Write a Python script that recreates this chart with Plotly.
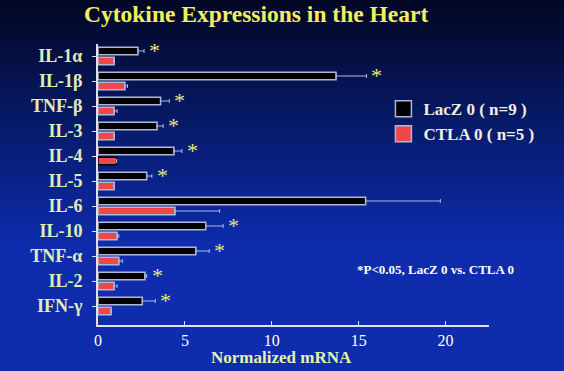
import plotly.graph_objects as go

categories = ["IL-1α", "IL-1β", "TNF-β", "IL-3", "IL-4", "IL-5", "IL-6", "IL-10", "TNF-α", "IL-2", "IFN-γ"]
lacz_values = [2.3, 13.7, 3.6, 3.4, 4.37, 2.8, 15.4, 6.2, 5.63, 2.7, 2.55]
lacz_errors = [0.35, 1.75, 0.5, 0.35, 0.46, 0.3, 4.3, 1.0, 0.77, 0.1, 0.75]
ctla_values = [0.93, 1.55, 0.93, 0.93, 1.07, 0.93, 4.43, 1.1, 1.2, 0.93, 0.75]
ctla_errors = [0.0, 0.15, 0.17, 0.0, 0.0, 0.0, 2.57, 0.1, 0.2, 0.17, 0.0]
significant = [True, True, True, True, True, True, False, True, True, True, True]
x_ticks = [0, 5, 10, 15, 20]

FONT = "Liberation Serif"
ypos = list(range(len(categories)))

fig = go.Figure()

# gradient background strips
n = 60
top = (2, 6, 30)
bot = (14, 44, 172)
for i in range(n):
    t = i / (n - 1)
    t2 = min(1.0, t * 1.7)
    c = tuple(int(top[k] + (bot[k] - top[k]) * t2) for k in range(3))
    fig.add_shape(type="rect", xref="paper", yref="paper", layer="below",
                  x0=-0.3, x1=1.3, y0=1.2 - (i + 1) * 1.55 / n, y1=1.2 - i * 1.55 / n + 0.005,
                  fillcolor="rgb(%d,%d,%d)" % c, line_width=0)

red_lines = ["#b0b8d8"] * len(categories)
red_lines[4] = "#000000"

fig.add_trace(go.Bar(
    y=ypos, x=lacz_values, orientation="h", name="LacZ 0 ( n=9 )",
    marker=dict(color="#000000", line=dict(color="#b0b8d8", width=1.5)),
    error_x=dict(type="data", array=lacz_errors, arrayminus=[0] * len(categories),
                 symmetric=False, color="#a8b8e8", thickness=1, width=2),
    showlegend=False,
))
fig.add_trace(go.Bar(
    y=ypos, x=ctla_values, orientation="h", name="CTLA 0 ( n=5 )",
    marker=dict(color="#f04848", line=dict(color=red_lines, width=1.5)),
    error_x=dict(type="data", array=ctla_errors, arrayminus=[0] * len(categories),
                 symmetric=False, color="#a8b8e8", thickness=1, width=2),
    showlegend=False,
))

# legend dummies
fig.add_trace(go.Scatter(x=[None], y=[None], mode="markers", name="<b>LacZ 0 ( n=9 )</b>",
                         marker=dict(symbol="square", size=16, color="#000000",
                                     line=dict(color="#b0b8d8", width=1.5))))
fig.add_trace(go.Scatter(x=[None], y=[None], mode="markers", name="<b>CTLA 0 ( n=5 )</b>",
                         marker=dict(symbol="square", size=16, color="#f04848",
                                     line=dict(color="#b0b8d8", width=1.5))))

# significance stars
for i, sig in enumerate(significant):
    if sig:
        fig.add_annotation(x=lacz_values[i] + lacz_errors[i], y=ypos[i], xref="x", yref="y",
                           text="*", showarrow=False, xanchor="left", yanchor="middle",
                           xshift=3, yshift=6,
                           font=dict(family=FONT, size=22, color="#e8e878"))

fig.add_annotation(x=0.405, y=1.107, xref="paper", yref="paper", yanchor="middle", xanchor="center",
                   text="<b>Cytokine Expressions in the Heart</b>", showarrow=False,
                   font=dict(family=FONT, size=23.5, color="#f0f060"))

fig.add_annotation(x=0.658, y=0.196, xref="paper", yref="paper", xanchor="left", yanchor="middle",
                   text="<b>*P<0.05, LacZ 0 vs. CTLA 0</b>", showarrow=False,
                   font=dict(family=FONT, size=13, color="#ffffff"))

fig.add_annotation(x=0.47, y=-0.114, xref="paper", yref="paper", xanchor="center", yanchor="middle",
                   text="<b>Normalized mRNA</b>", showarrow=False,
                   font=dict(family=FONT, size=17, color="#e8f0b0"))

fig.update_layout(
    width=564, height=371,
    margin=dict(l=98, r=75, t=44, b=46),
    paper_bgcolor="#061050", plot_bgcolor="rgba(0,0,0,0)",
    barmode="group", bargap=0.2, bargroupgap=0.25,
    legend=dict(x=0.73, y=0.832, xanchor="left", yanchor="top",
                bgcolor="rgba(0,0,0,0)", font=dict(family=FONT, size=17, color="#f0f0e0"),
                itemsizing="trace"),
    xaxis=dict(range=[0, 22.5], tickvals=x_ticks, showgrid=False, zeroline=False,
               showline=True, linecolor="#e0e0f0", linewidth=2,
               ticks="inside", ticklen=4, tickcolor="#e0e0f0",
               tickfont=dict(family=FONT, size=16, color="#ffffff")),
    yaxis=dict(range=[10.76, -0.48], tickvals=ypos, ticktext=["<b>%s</b>" % c for c in categories],
               showgrid=False, zeroline=False, showline=True, linecolor="#e0e0f0", linewidth=2,
               ticks="outside", ticklen=4, tickcolor="#e0e0f0", ticklabelstandoff=6,
               tickfont=dict(family=FONT, size=18, color="#e0ecb8")),
)
fig.update_xaxes(tickprefix="<b>", ticksuffix="</b>")

fig.write_html("out.html", config={"displayModeBar": False},
               post_script="document.body.style.margin='0';document.body.style.overflow='hidden';")
